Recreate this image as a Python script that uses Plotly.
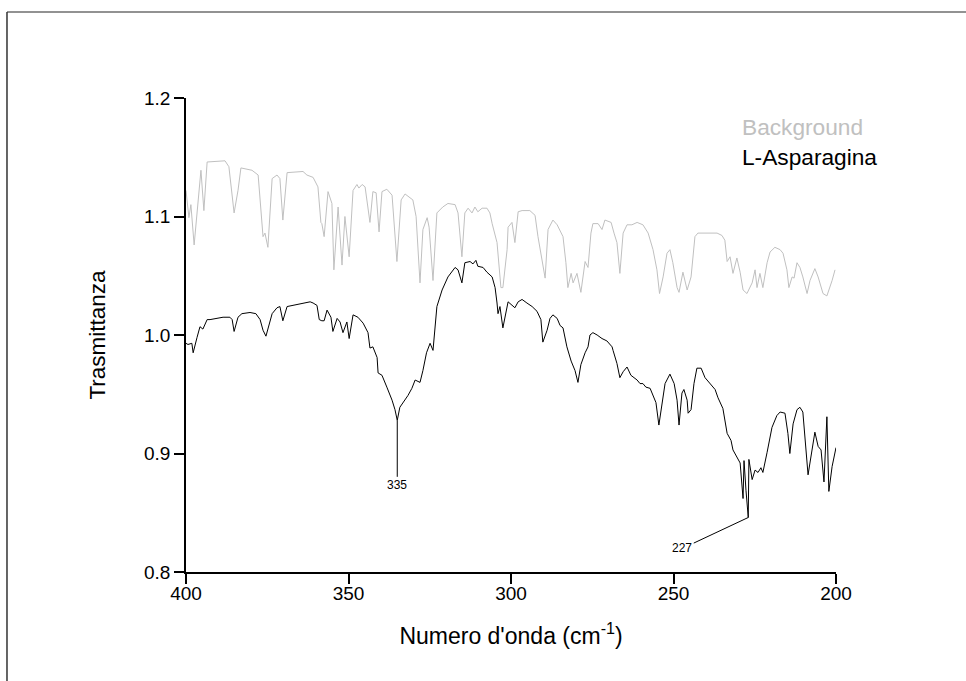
import plotly.graph_objects as go

# Far-IR transmittance spectra, 400-200 cm^-1
bg_wavenumber = [
    400.0, 399.1, 398.5, 397.5, 395.4, 394.5, 393.5, 388.0, 386.8, 385.2, 384.0, 383.1,
    379.7, 377.8, 376.3, 375.7, 374.8, 373.5, 372.0, 371.1, 370.2, 368.9, 364.0, 362.8,
    360.9, 359.4, 358.5, 358.2, 357.5, 356.3, 355.1, 354.5, 353.2, 352.0, 351.1, 349.8,
    348.6, 347.4, 346.8, 345.8, 344.9, 343.4, 342.5, 341.5, 340.6, 339.7, 338.2, 336.6,
    335.1, 333.8, 332.6, 330.2, 329.2, 328.0, 327.1, 325.8, 325.2, 324.0, 322.8, 321.0,
    319.4, 317.2, 316.3, 315.1, 314.2, 313.2, 312.0, 311.1, 310.2, 308.9, 307.4, 306.5,
    305.8, 304.9, 304.3, 303.1, 302.5, 301.2, 300.9, 299.7, 298.8, 297.8, 296.6, 294.2,
    292.6, 291.7, 290.5, 289.5, 288.6, 287.1, 285.8, 284.6, 284.0, 283.1, 282.5, 281.5,
    280.9, 279.7, 278.5, 277.2, 276.3, 275.4, 274.8, 273.2, 272.0, 271.1, 269.2, 268.3,
    267.4, 266.5, 265.5, 264.3, 262.8, 261.2, 259.4, 257.8, 256.3, 255.1, 254.3, 253.2,
    252.0, 251.1, 250.2, 248.9, 248.3, 247.1, 245.8, 244.6, 243.4, 242.5, 239.7, 236.6,
    235.1, 234.2, 233.5, 232.6, 231.7, 230.5, 229.5, 228.6, 227.4, 225.8, 224.9, 224.3,
    223.4, 222.5, 221.2, 220.3, 218.8, 217.2, 216.3, 215.1, 214.5, 213.5, 212.9, 212.0,
    211.1, 210.2, 208.9, 208.0, 206.5, 205.5, 204.0, 202.8, 201.2, 200.3,
]
bg_transmittance = [
    1.122, 1.099, 1.110, 1.076, 1.139, 1.105, 1.146, 1.147, 1.142, 1.103, 1.122, 1.141,
    1.139, 1.135, 1.083, 1.086, 1.074, 1.132, 1.135, 1.132, 1.097, 1.137, 1.138, 1.135,
    1.133, 1.125, 1.095, 1.094, 1.083, 1.121, 1.111, 1.055, 1.108, 1.059, 1.100, 1.066,
    1.122, 1.127, 1.124, 1.127, 1.125, 1.095, 1.121, 1.120, 1.087, 1.121, 1.123, 1.118,
    1.062, 1.114, 1.119, 1.114, 1.100, 1.044, 1.089, 1.099, 1.091, 1.046, 1.103, 1.108,
    1.111, 1.110, 1.103, 1.066, 1.103, 1.107, 1.103, 1.108, 1.104, 1.107, 1.107, 1.103,
    1.094, 1.083, 1.078, 1.040, 1.040, 1.072, 1.091, 1.095, 1.078, 1.104, 1.105, 1.105,
    1.101, 1.083, 1.063, 1.048, 1.089, 1.097, 1.093, 1.087, 1.083, 1.061, 1.040, 1.052,
    1.044, 1.052, 1.036, 1.062, 1.057, 1.086, 1.094, 1.094, 1.089, 1.097, 1.095, 1.086,
    1.078, 1.052, 1.086, 1.093, 1.093, 1.095, 1.093, 1.086, 1.072, 1.055, 1.035, 1.049,
    1.069, 1.072, 1.061, 1.040, 1.036, 1.053, 1.038, 1.049, 1.083, 1.086, 1.086, 1.086,
    1.084, 1.080, 1.062, 1.066, 1.052, 1.065, 1.053, 1.038, 1.035, 1.044, 1.055, 1.040,
    1.052, 1.040, 1.061, 1.070, 1.074, 1.072, 1.069, 1.055, 1.040, 1.049, 1.048, 1.061,
    1.057, 1.049, 1.035, 1.046, 1.056, 1.049, 1.035, 1.033, 1.046, 1.055,
]

asn_wavenumber = [
    400.0, 399.4, 398.2, 397.8, 396.6, 395.7, 394.8, 393.5, 392.6, 390.5, 388.6, 386.5,
    385.8, 385.2, 384.0, 382.8, 380.3, 378.5, 377.2, 376.3, 375.4, 373.5, 372.0, 371.1,
    370.2, 368.9, 365.8, 364.0, 361.8, 360.9, 359.7, 359.0, 358.2, 357.5, 356.6, 355.4,
    354.8, 353.5, 352.6, 351.7, 350.5, 349.8, 348.6, 347.1, 345.5, 344.0, 343.4, 342.5,
    341.2, 340.9, 339.7, 338.2, 336.6, 335.7, 335.0, 334.2, 333.2, 331.7, 330.5, 329.5,
    328.0, 327.1, 326.0, 325.2, 324.9, 324.0, 322.8, 321.2, 319.4, 317.2, 316.3, 315.1,
    314.2, 312.6, 311.7, 310.8, 310.2, 308.6, 307.4, 305.8, 304.9, 304.3, 304.0, 303.4,
    302.5, 300.9, 299.7, 298.8, 297.8, 296.6, 295.1, 293.5, 292.0, 290.8, 290.2, 288.9,
    288.0, 287.1, 285.8, 284.9, 284.0, 282.8, 281.5, 280.3, 279.4, 278.5, 277.2, 276.3,
    275.7, 274.8, 273.5, 272.0, 270.5, 268.9, 268.6, 267.4, 266.5, 265.5, 264.3, 263.1,
    261.2, 260.3, 259.4, 258.5, 257.2, 256.3, 255.4, 254.5, 253.5, 252.6, 251.1, 249.8,
    248.9, 248.3, 247.4, 246.8, 245.8, 245.5, 244.6, 243.7, 242.8, 241.5, 240.3, 238.8,
    237.2, 236.3, 234.8, 233.5, 232.3, 231.7, 230.5, 229.5, 228.6, 228.3, 227.7, 227.0,
    226.8, 225.8, 224.9, 224.0, 223.1, 222.5, 221.2, 219.7, 218.2, 217.2, 215.7, 214.8,
    214.2, 213.2, 212.0, 211.1, 210.2, 208.6, 206.5, 205.5, 204.6, 203.7, 202.8, 202.2,
    201.2, 200.0,
]
asn_transmittance = [
    0.993, 0.992, 0.993, 0.985, 0.998, 1.007, 1.005, 1.013, 1.013, 1.014, 1.015, 1.015,
    1.013, 1.003, 1.015, 1.018, 1.019, 1.018, 1.013, 1.004, 0.999, 1.018, 1.023, 1.024,
    1.012, 1.024, 1.026, 1.027, 1.028, 1.027, 1.025, 1.013, 1.012, 1.012, 1.021, 1.015,
    1.003, 1.014, 1.011, 1.002, 1.011, 0.997, 1.017, 1.015, 1.010, 1.002, 0.989, 0.990,
    0.981, 0.968, 0.966, 0.956, 0.945, 0.937, 0.928, 0.939, 0.943, 0.949, 0.955, 0.962,
    0.960, 0.970, 0.985, 0.990, 0.993, 0.987, 1.024, 1.038, 1.049, 1.057, 1.055, 1.044,
    1.061, 1.062, 1.060, 1.063, 1.058, 1.057, 1.053, 1.049, 1.040, 1.027, 1.018, 1.024,
    1.006, 1.028, 1.025, 1.023, 1.028, 1.030, 1.027, 1.024, 1.020, 1.013, 0.994, 1.004,
    1.014, 1.017, 1.014, 1.008, 1.006, 0.990, 0.978, 0.970, 0.960, 0.975, 0.985, 0.990,
    1.000, 1.002, 1.000, 0.997, 0.995, 0.990, 0.987, 0.976, 0.964, 0.969, 0.973, 0.966,
    0.962, 0.959, 0.959, 0.956, 0.955, 0.949, 0.943, 0.924, 0.945, 0.959, 0.967, 0.959,
    0.945, 0.924, 0.951, 0.954, 0.945, 0.934, 0.937, 0.959, 0.972, 0.972, 0.964, 0.959,
    0.954, 0.947, 0.938, 0.917, 0.911, 0.903, 0.897, 0.892, 0.862, 0.894, 0.869, 0.846,
    0.895, 0.878, 0.886, 0.884, 0.888, 0.884, 0.901, 0.922, 0.932, 0.935, 0.934, 0.917,
    0.900, 0.925, 0.937, 0.939, 0.935, 0.882, 0.918, 0.906, 0.903, 0.876, 0.931, 0.868,
    0.889, 0.905,
]

x_ticks = [400, 350, 300, 250, 200]
y_ticks = [0.8, 0.9, 1.0, 1.1, 1.2]

# Peaks labelled on the sample spectrum
peak_labels = [335, 227]

FONT = "Liberation Sans, Arial, Helvetica, sans-serif"
BG_COLOR = "#c0c0c0"

fig = go.Figure()
fig.add_trace(go.Scatter(
    x=bg_wavenumber, y=bg_transmittance, mode="lines", name="Background",
    line=dict(color=BG_COLOR, width=1),
))
fig.add_trace(go.Scatter(
    x=asn_wavenumber, y=asn_transmittance, mode="lines", name="L-Asparagina",
    line=dict(color="black", width=1),
))

# Peak markers: leader line from the band minimum to its label
peak_offsets = {335: (0, 65), 227: (-66, 31)}
for wn in peak_labels:
    idx = asn_wavenumber.index(float(wn))
    ax, ay = peak_offsets[wn]
    fig.add_annotation(
        x=wn, y=asn_transmittance[idx], text=str(wn),
        showarrow=True, arrowhead=0, arrowwidth=1, arrowcolor="black",
        ax=ax, ay=ay, font=dict(family=FONT, size=12, color="black"),
    )

# Legend entries as plain coloured text
for i, (label, color) in enumerate([("Background", BG_COLOR), ("L-Asparagina", "black")]):
    fig.add_annotation(
        xref="paper", yref="paper", x=0.852, y=0.938 - i * 0.063,
        xanchor="left", yanchor="middle", showarrow=False,
        text=label, font=dict(family=FONT, size=22.7, color=color),
    )

# Outer frame around the figure
fig.add_shape(type="line", xref="paper", yref="paper",
              x0=-0.2754, y0=1.1814, x1=1.25, y1=1.1814,
              line=dict(color="#6e6e6e", width=1.5))
fig.add_shape(type="line", xref="paper", yref="paper",
              x0=-0.2754, y0=1.1814, x1=-0.2754, y1=-0.3,
              line=dict(color="#333333", width=1.5))

axis_common = dict(
    showline=True, linecolor="black", linewidth=1.5, mirror=False,
    ticks="outside", ticklen=10, tickwidth=1.5, tickcolor="black",
    showgrid=False, zeroline=False,
    tickfont=dict(family=FONT, size=19, color="black"),
)

fig.update_layout(
    width=966, height=681,
    margin=dict(l=186, r=130, t=98, b=109),
    paper_bgcolor="white", plot_bgcolor="white",
    showlegend=False,
    font=dict(family=FONT, color="black"),
    xaxis=dict(
        range=[400, 200], tickvals=x_ticks, ticktext=[str(v) for v in x_ticks],
        ticklabelstandoff=-7,
        title=dict(text="Numero d'onda (cm<sup>-1</sup>)", font=dict(family=FONT, size=23), standoff=25),
        **axis_common,
    ),
    yaxis=dict(
        range=[0.8, 1.2], tickvals=y_ticks, ticktext=[f"{v:.1f}" for v in y_ticks],
        title=dict(text="Trasmittanza", font=dict(family=FONT, size=22.5), standoff=32),
        **axis_common,
    ),
)

fig.write_html("out.html")
